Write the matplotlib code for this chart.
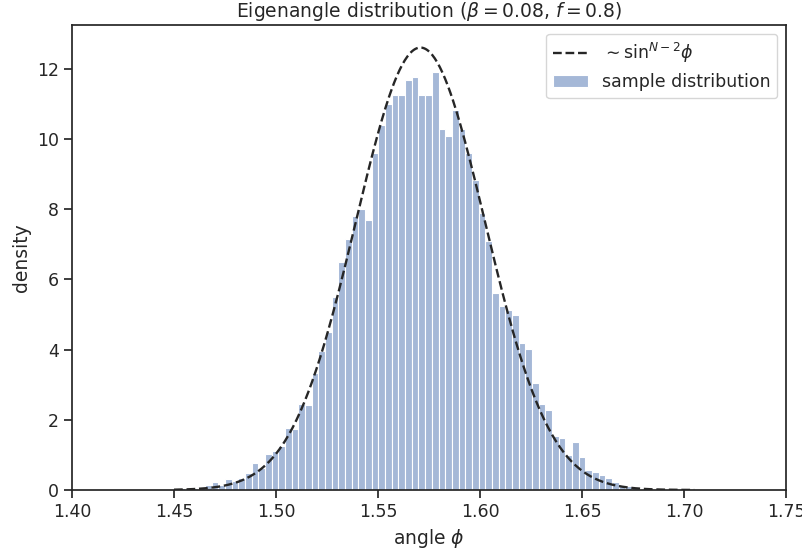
import numpy as np
import matplotlib
matplotlib.use("Agg")
import matplotlib.pyplot as plt
import seaborn as sns

bin_lo, bin_hi, n_bins = 1.4325, 1.6974, 81
density = [
    0.02, 0.00, 0.00, 0.02, 0.02, 0.04, 0.05, 0.04, 0.07, 0.08,
    0.14, 0.22, 0.15, 0.31, 0.26, 0.33, 0.47, 0.78, 0.62, 1.02,
    1.12, 1.25, 1.78, 1.74, 2.45, 2.42, 3.33, 3.95, 4.50, 5.50,
    6.50, 7.15, 7.80, 8.00, 7.70, 9.60, 10.40, 11.00, 11.25, 11.25,
    11.68, 11.76, 11.25, 11.25, 11.92, 10.30, 10.10, 10.83, 10.30, 9.60,
    8.83, 7.90, 7.10, 5.60, 5.25, 5.13, 5.00, 4.20, 4.02, 3.05,
    2.45, 2.28, 1.55, 1.47, 1.00, 1.37, 0.94, 0.57, 0.52, 0.43,
    0.33, 0.24, 0.15, 0.10, 0.06, 0.04, 0.02, 0.03, 0.01, 0.00,
    0.01,
]

# theoretical curve ~ sin^(N-2) phi
N = 1000
phi_lo, phi_hi = 1.450, 1.705

x_ticks = [1.40, 1.45, 1.50, 1.55, 1.60, 1.65, 1.70, 1.75]
y_ticks = [0, 2, 4, 6, 8, 10, 12]


def theory_curve(n, lo, hi):
    phi = np.linspace(lo, hi, 400)
    grid = np.linspace(0, np.pi, 20001)
    norm = np.trapezoid(np.sin(grid) ** (n - 2), grid)
    return phi, np.sin(phi) ** (n - 2) / norm


sns.set_theme(style="ticks")
plt.rcParams["font.family"] = ["DejaVu Sans"]
plt.rcParams["xtick.labelsize"] = 12.5
plt.rcParams["ytick.labelsize"] = 12.5
plt.rcParams["axes.labelsize"] = 13.5

fig = plt.figure(figsize=(8.02, 5.49), dpi=100)
fig.subplots_adjust(left=0.0898, right=0.980, bottom=0.1075, top=0.9545)
ax = fig.add_subplot(111)

edges = np.linspace(bin_lo, bin_hi, n_bins + 1)
phi, dens = theory_curve(N, phi_lo, phi_hi)
ax.plot(phi, dens, ls="--", color="#262626", lw=1.7,
        label=r"$\sim \mathrm{sin}^{N-2}\phi$")
ax.bar(edges[:-1], density, width=np.diff(edges), align="edge",
       color=(0.298, 0.447, 0.690, 0.5), edgecolor="white", linewidth=0.8,
       label="sample distribution")

ax.set_xlim(1.40, 1.75)
ax.set_ylim(0, 13.25)
ax.set_xticks(x_ticks)
ax.set_xticklabels([f"{t:.2f}" for t in x_ticks])
ax.set_yticks(y_ticks)
ax.set_xlabel(r"angle $\phi$")
ax.set_ylabel("density")
ax.set_title(r"Eigenangle distribution ($\beta = 0.08$, $f = 0.8$)", fontsize=13.5)
ax.legend(loc="upper right", fontsize=12.5)

fig.savefig("out.png", dpi=100)
